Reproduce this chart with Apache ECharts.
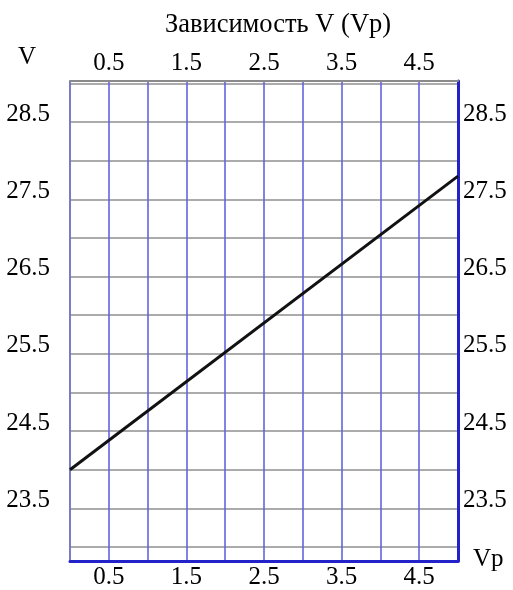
<!DOCTYPE html>
<html>
<head>
<meta charset="utf-8">
<script src="https://cdn.jsdelivr.net/npm/echarts@6/dist/echarts.min.js"></script>
<style>
  html, body { margin: 0; padding: 0; background: #fff; }
  #chart { width: 513px; height: 590px; }
</style>
</head>
<body>
<div id="chart"></div>
<script>
// данные графика V(Vp)
const vpValues = [0, 5];
const vValues = [24.0, 27.8];
const xRange = [0, 5];
const yRange = [22.82, 29.03];
const xTickLabels = ['0.5', '1.5', '2.5', '3.5', '4.5'];
const yTickLabels = ['23.5', '24.5', '25.5', '26.5', '27.5', '28.5'];

const serif = '"Liberation Serif", "DejaVu Serif", serif';
const blueGrid = 'rgba(100, 100, 225, 0.8)';
const greyGrid = '#8f8f8f';

function pickLabel(list) {
  return function (value) {
    const s = (Math.round(value * 10) / 10).toFixed(1);
    return list.indexOf(s) >= 0 ? s : '';
  };
}

const chart = echarts.init(document.getElementById('chart'));

const xCommon = {
  type: 'value',
  min: xRange[0],
  max: xRange[1],
  interval: 0.5,
  axisTick: { show: false },
  axisLabel: {
    formatter: pickLabel(xTickLabels),
    fontFamily: serif,
    fontSize: 25,
    color: '#000',
    showMinLabel: false,
    showMaxLabel: false
  }
};

const yCommon = {
  type: 'value',
  min: yRange[0],
  max: yRange[1],
  minInterval: 0.5,
  maxInterval: 0.5,
  splitNumber: 12,
  axisTick: { show: false },
  axisLabel: {
    formatter: pickLabel(yTickLabels),
    fontFamily: serif,
    fontSize: 25,
    color: '#000',
    showMinLabel: false,
    showMaxLabel: false,
    verticalAlign: 'bottom',
    lineHeight: 16
  }
};

const option = {
  animation: false,
  title: {
    text: 'Зависимость V (Vp)',
    left: 273,
    top: 7,
    textAlign: 'center',
    textStyle: { fontFamily: serif, fontSize: 26.5, fontWeight: 'normal', color: '#000' }
  },
  grid: { left: 70, right: 55, top: 81, bottom: 28 },
  xAxis: [
    Object.assign({}, xCommon, {
      position: 'bottom',
      axisLine: { show: true, onZero: false, lineStyle: { color: '#2222c8', width: 3 } },
      axisLabel: Object.assign({}, xCommon.axisLabel, { margin: 4 }),
      splitLine: { show: true, lineStyle: { color: blueGrid, width: 2 } }
    }),
    Object.assign({}, xCommon, {
      position: 'top',
      axisLine: { show: true, onZero: false, lineStyle: { color: '#8a8a8a', width: 2 } },
      axisLabel: Object.assign({}, xCommon.axisLabel, { margin: 5 }),
      splitLine: { show: false }
    })
  ],
  yAxis: [
    Object.assign({}, yCommon, {
      position: 'left',
      axisLine: { show: true, onZero: false, lineStyle: { color: '#7a7ab8', width: 1.5 } },
      axisLabel: Object.assign({}, yCommon.axisLabel, { margin: 20 }),
      splitLine: { show: true, lineStyle: { color: greyGrid, width: 1.5 } }
    }),
    Object.assign({}, yCommon, {
      position: 'right',
      axisLine: { show: true, onZero: false, lineStyle: { color: '#2222c8', width: 3 } },
      axisLabel: Object.assign({}, yCommon.axisLabel, { margin: 5 }),
      splitLine: { show: false }
    })
  ],
  graphic: [
    {
      type: 'text', left: 18, top: 45,
      style: { text: 'V', font: '25px ' + serif, fill: '#000' }
    },
    {
      type: 'text', left: 473, top: 547,
      style: { text: 'Vp', font: '25px ' + serif, fill: '#000' }
    }
  ],
  series: [
    {
      type: 'line',
      xAxisIndex: 0,
      yAxisIndex: 0,
      data: vpValues.map((x, i) => [x, vValues[i]]),
      showSymbol: false,
      lineStyle: { color: '#111', width: 3 },
      z: 5
    }
  ]
};

chart.setOption(option);
</script>
</body>
</html>
